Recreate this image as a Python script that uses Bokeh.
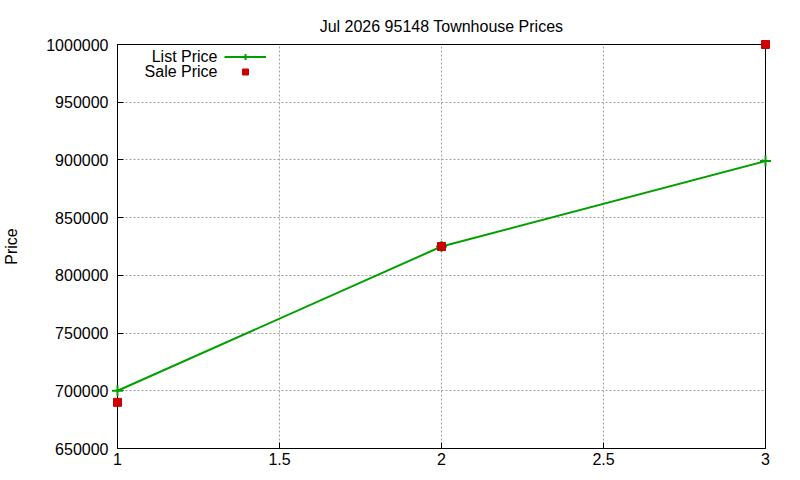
from bokeh.plotting import figure
from bokeh.models import FixedTicker, Legend, LegendItem, Range1d, Label
from bokeh.embed import file_html
from bokeh.resources import INLINE

# ---- data ----
months = [1, 2, 3]
list_price = [700000, 825000, 899000]
sale_price = [690000, 825000, 1000000]
x_ticks = [1, 1.5, 2, 2.5, 3]
x_tick_labels = ["1", "1.5", "2", "2.5", "3"]
y_ticks = [650000, 700000, 750000, 800000, 850000, 900000, 950000, 1000000]
y_tick_labels = ["650000", "700000", "750000", "800000", "850000", "900000", "950000", "1000000"]
series_names = ["List Price", "Sale Price"]
title_text = "Jul 2026 95148 Townhouse Prices"
y_label = "Price"

FONT = "Liberation Sans"
FS = "16px"
GREEN = "#00a000"
RED = "#cc0000"

p = figure(frame_width=648, frame_height=404, output_backend="svg", toolbar_location=None,
           x_range=Range1d(1, 3), y_range=Range1d(650000, 1000000),
           min_border_left=112, min_border_right=24, min_border_top=44, min_border_bottom=20)

p.title.text = title_text
p.title.align = "center"
p.title.text_font = FONT
p.title.text_font_size = FS
p.title.text_font_style = "normal"
p.title.text_color = "black"
p.title.standoff = 20

p.outline_line_color = "black"
p.outline_line_width = 1
p.outline_line_alpha = 1.0


def style_axis(ax, ticks, labels):
    ax.ticker = FixedTicker(ticks=ticks)
    ax.major_label_overrides = {t: l for t, l in zip(ticks, labels)}
    ax.minor_tick_line_color = None
    ax.major_tick_in = 6
    ax.major_tick_out = 0
    ax.major_tick_line_color = "black"
    ax.axis_line_color = "black"
    ax.major_label_text_font = FONT
    ax.major_label_text_color = "black"
    ax.major_label_text_font_size = FS


xa = p.xaxis[0]
ya = p.yaxis[0]
style_axis(xa, x_ticks, x_tick_labels)
style_axis(ya, y_ticks, y_tick_labels)
xa.major_label_standoff = 4
ya.major_label_standoff = 9
ya.axis_label = y_label
ya.axis_label_text_font = FONT
ya.axis_label_text_font_size = FS
ya.axis_label_text_font_style = "normal"
ya.axis_label_text_color = "black"
ya.axis_label_standoff = 23

p.xgrid[0].ticker = FixedTicker(ticks=x_ticks)
p.ygrid[0].ticker = FixedTicker(ticks=y_ticks)
for g in (p.xgrid[0], p.ygrid[0]):
    g.grid_line_color = "#a0a0a0"
    g.grid_line_dash = "2 2"
    g.grid_line_width = 1

ln = p.line(months, list_price, line_color=GREEN, line_width=2, level="overlay")
cr = p.scatter(months, list_price, marker="cross", size=11, line_color=GREEN,
               line_width=2, level="overlay")
sq = p.scatter(months, sale_price, marker="square", size=8, fill_color=RED,
               line_color=RED, level="overlay")

legend = Legend(items=[LegendItem(label=" ", renderers=[ln, cr]),
                       LegendItem(label=" ", renderers=[sq])],
                location=(107, 369), orientation="vertical",
                background_fill_alpha=0, border_line_color=None,
                label_text_font=FONT, label_text_font_size="9px",
                glyph_width=42, glyph_height=15, label_height=15,
                label_standoff=0, spacing=0, padding=0, margin=0)
p.add_layout(legend)

for i, name in enumerate(series_names):
    p.add_layout(Label(x=100, y=392 - 15 * i, x_units="screen", y_units="screen",
                       text=name, text_align="right", text_baseline="middle",
                       text_font=FONT, text_font_size=FS, text_color="black"))

open("out.html", "w").write(file_html(p, INLINE))
